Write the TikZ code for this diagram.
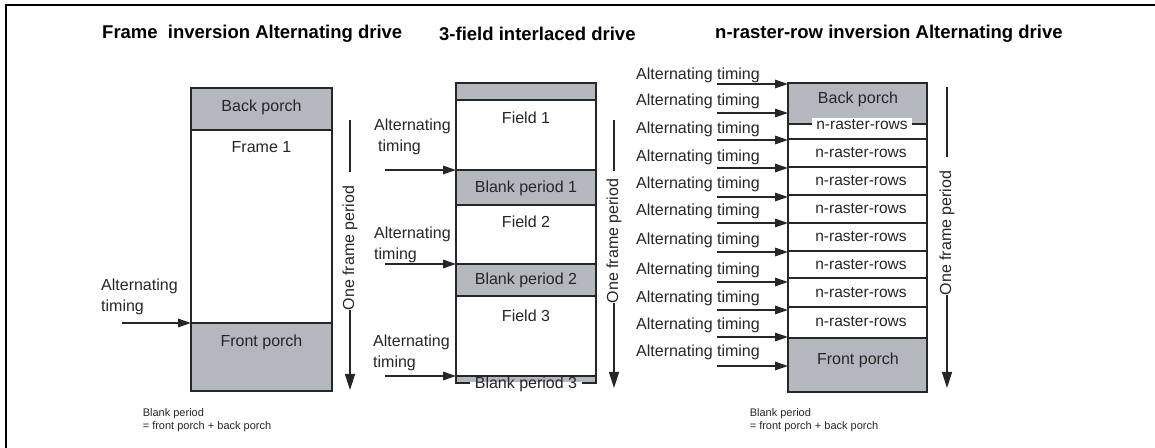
\documentclass[tikz,border=0pt]{standalone}
\usepackage{fontspec}
\setmainfont{Liberation Sans}
\usetikzlibrary{arrows.meta}
\definecolor{porch}{HTML}{B3B8BE}
\definecolor{ink}{HTML}{262626}
\begin{document}
\begin{tikzpicture}[x=1bp,y=-1bp,
  txt/.style={font=\fontsize{16bp}{19bp}\selectfont, text=ink, inner sep=0pt},
  rowtxt/.style={font=\fontsize{15.5bp}{18bp}\selectfont, text=ink, inner sep=0pt},
  note/.style={font=\fontsize{11bp}{13bp}\selectfont, text=ink, inner sep=0pt, align=left},
  ttl/.style={font=\bfseries\fontsize{18.5bp}{22bp}\selectfont, text=black, inner sep=0pt, anchor=west},
  seg/.style={draw=ink, line width=1.3bp, anchor=north west, inner sep=0pt, outer sep=0pt},
  arr/.style={draw=ink, line width=1.4bp, -{Triangle[length=13bp,width=8.5bp]}},
  varr/.style={draw=ink, line width=1.4bp, -{Triangle[length=16bp,width=10bp]}},
  vline/.style={draw=ink, line width=1.4bp},
]
\useasboundingbox (0,0) rectangle (1155,448);
\draw[line width=2.5bp] (6,448) -- (6,5) -- (1155,5);

% titles
\node[ttl] (t1) at (102,34) {Frame\hspace{0.55em}inversion Alternating drive};
\node[ttl] (t2) at (439,34) {3-field interlaced drive};
\node[ttl] (t3) at (715,34) {n-raster-row inversion Alternating drive};

% ---------- panel 1 ----------
\node[seg, fill=porch, minimum width=141bp, minimum height=42bp] (bp1) at (191,88) {};
\node[seg, fill=white, minimum width=141bp, minimum height=193bp] (fr1) at (191,130) {};
\node[seg, fill=porch, minimum width=141bp, minimum height=68bp] (fp1) at (191,323) {};
\node[txt] (bp1t) at (261.5,107) {Back porch};
\node[txt] (fr1t) at (261.5,147) {Frame 1};
\node[txt] (fp1t) at (261.5,342) {Front porch};
\node[txt, anchor=west, align=left] (al1) at (101,297) {Alternating\\[1.5bp]timing};
\coordinate (a1s) at (122,323);
\draw[arr] (a1s) -- (fp1.north west);
\coordinate (o1t) at (350,120);
\coordinate (o1b) at (350,390);
\node[txt, rotate=90] (o1) at (350,248) {One frame period};
\draw[vline, shorten >=14bp] (o1t) -- (o1.east);
\draw[varr] (o1.west) -- (o1b);
\node[note] (n1) at (207,420) {Blank period\\= front porch + back porch};

% ---------- panel 2 ----------
\node[seg, fill=porch, minimum width=140bp, minimum height=17bp] (g0) at (456,83) {};
\node[seg, fill=white, minimum width=140bp, minimum height=70bp] (f1) at (456,100) {};
\node[seg, fill=porch, minimum width=140bp, minimum height=35bp] (b1) at (456,170) {};
\node[seg, fill=white, minimum width=140bp, minimum height=59bp] (f2) at (456,205) {};
\node[seg, fill=porch, minimum width=140bp, minimum height=32bp] (b2) at (456,264) {};
\node[seg, fill=white, minimum width=140bp, minimum height=80bp] (f3) at (456,296) {};
\node[seg, fill=porch, minimum width=140bp, minimum height=7bp] (b3) at (456,376) {};
\node[txt] (f1t) at (526,118) {Field 1};
\node[txt] (b1t) at (526,188) {Blank period 1};
\node[txt] (f2t) at (526,222) {Field 2};
\node[txt] (b2t) at (526,280) {Blank period 2};
\node[txt] (f3t) at (526,316) {Field 3};
\node[fill=white, inner sep=0pt, minimum width=112bp, minimum height=7bp, anchor=north] (b3gap) at (526,382.3) {};
\node[txt] (b3t) at (526,384.2) {Blank period 3};
\node[txt, anchor=west, align=left] (al21) at (374,137) {Alternating\\[1.5bp]\hspace{4bp}timing};
\node[txt, anchor=west, align=left] (al22) at (374,245) {Alternating\\[1.5bp]timing};
\node[txt, anchor=west, align=left] (al23) at (373,353) {Alternating\\[1.5bp]timing};
\coordinate (a21) at (385,170);
\coordinate (a22) at (385,264);
\coordinate (a23) at (385,376);
\draw[arr] (a21) -- (b1.north west);
\draw[arr] (a22) -- (b2.north west);
\draw[arr] (a23) -- (b3.north west);
\coordinate (o2t) at (614,120);
\coordinate (o2b) at (614,388);
\node[txt, rotate=90] (o2) at (614,241) {One frame period};
\draw[vline, shorten >=8bp] (o2t) -- (o2.east);
\draw[varr] (o2.west) -- (o2b);

% ---------- panel 3 ----------
\node[seg, fill=porch, minimum width=139bp, minimum height=41bp] (bp3) at (788,83) {};
\node[seg, fill=white, minimum width=139bp, minimum height=15bp] (r0) at (788,124) {};
\node[seg, fill=white, minimum width=139bp, minimum height=28bp] (r1) at (788,139) {};
\node[seg, fill=white, minimum width=139bp, minimum height=28bp] (r2) at (788,167) {};
\node[seg, fill=white, minimum width=139bp, minimum height=28bp] (r3) at (788,195) {};
\node[seg, fill=white, minimum width=139bp, minimum height=28bp] (r4) at (788,223) {};
\node[seg, fill=white, minimum width=139bp, minimum height=27bp] (r5) at (788,251) {};
\node[seg, fill=white, minimum width=139bp, minimum height=29bp] (r6) at (788,278) {};
\node[seg, fill=white, minimum width=139bp, minimum height=31bp] (r7) at (788,307) {};
\node[seg, fill=porch, minimum width=139bp, minimum height=54bp] (fp3) at (788,338) {};
\node[txt] (bp3t) at (858,99) {Back porch};
\node[txt] (fp3t) at (858,360) {Front porch};
\node[rowtxt, fill=white, inner xsep=4bp, inner ysep=2bp] (r0t) at (862,125) {n-raster-rows};
\foreach \ry [count=\i] in {153,181,209,237,265,293,322} {
  \node[rowtxt] (r\i t) at (861,\ry) {n-raster-rows};
}
\foreach \ty/\ay [count=\i] in {75/84, 101/113, 129/140, 157/168, 184/197, 211/223, 240/252, 270/282, 298/310, 325/337, 352/366} {
  \node[txt, anchor=west] (at\i) at (636,\ty) {Alternating timing};
  \coordinate (as\i) at (717,\ay);
  \draw[arr] (as\i) -- (as\i -| bp3.west);
}
\coordinate (o3t) at (947,87);
\coordinate (o3b) at (947,388);
\node[txt, rotate=90] (o3) at (947,233) {One frame period};
\draw[vline, shorten >=14bp] (o3t) -- (o3.east);
\draw[varr] (o3.west) -- (o3b);
\node[note] (n3) at (814,420) {Blank period\\= front porch + back porch};
\end{tikzpicture}
\end{document}
